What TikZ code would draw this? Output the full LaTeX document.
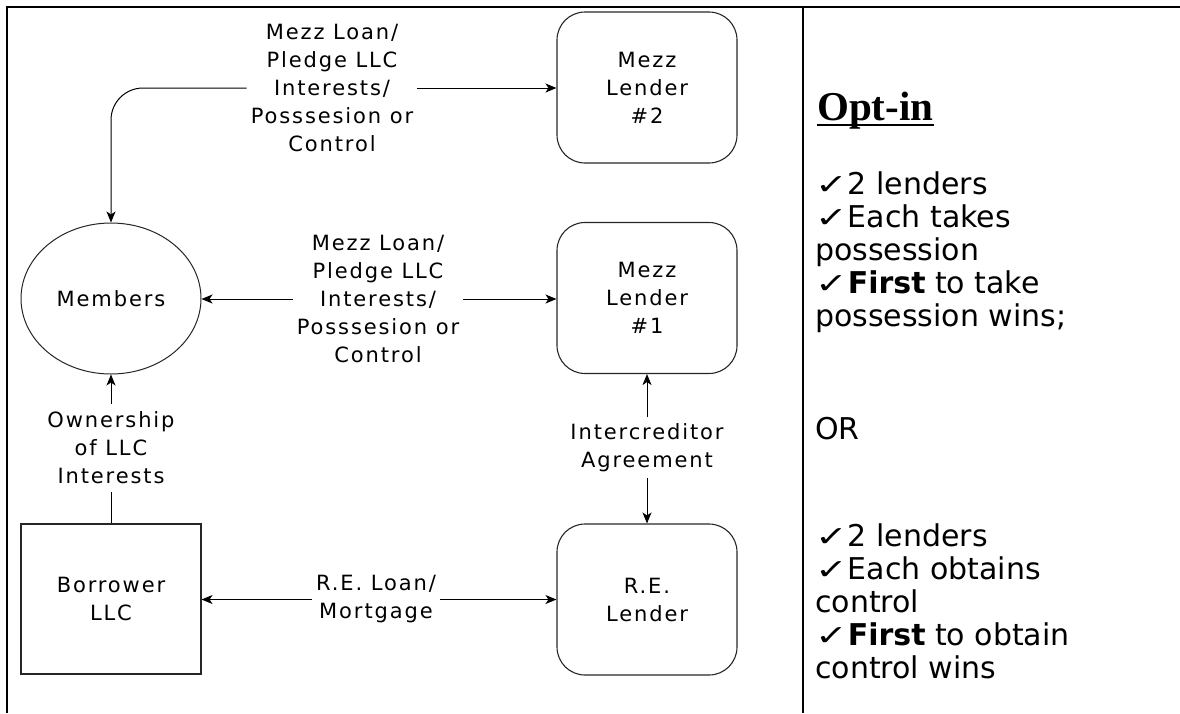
\documentclass[tikz,border=0pt]{standalone}
\usepackage{fontspec}
\usepackage{graphicx}
\setmainfont{DejaVu Sans}
\newfontfamily\labfont[LetterSpace=9]{DejaVu Sans}
\newfontfamily\panelfont{DejaVu Sans}
\newfontfamily\headfont{Liberation Serif}
\usetikzlibrary{arrows.meta,shapes.geometric}
\newcommand\ck{\scalebox{1.3}[0.95]{✓}}

\begin{document}
\begin{tikzpicture}[x=1pt,y=-1pt,
  lbl/.style={font=\labfont\fontsize{21}{28}\selectfont, align=center, inner xsep=4pt, inner ysep=6pt},
  lender/.style={lbl, draw=black!85, line width=1.1pt, rounded corners=28pt,
    minimum width=180pt, minimum height=151pt, inner sep=0pt},
  plainbox/.style={lbl, draw=black!85, line width=1.1pt,
    minimum width=180pt, minimum height=150pt, inner sep=0pt},
  oval/.style={lbl, draw=black!85, line width=1pt, ellipse,
    minimum width=180pt, minimum height=151pt, inner sep=0pt},
  conn/.style={line width=1pt, -{Stealth[length=11pt,width=9pt,inset=3pt]}},
  link/.style={line width=1pt},
  frame/.style={line width=2.6pt}]

\useasboundingbox (0,0) rectangle (1180,713);

% page frame: top rule, left rule and column divider
\draw[frame] (7,7) -- (1180,7);
\draw[frame] (7,5.7) -- (7,713);
\draw[frame] (803,7) -- (803,713);

% parties
\node[lender] (mezz2) at (647,87.5) {Mezz\\Lender\\\#2};
\node[lender] (mezz1) at (647,298) {Mezz\\Lender\\\#1};
\node[lender] (rel) at (647,599.5) {R.E.\\Lender};
\node[oval] (members) at (111,298.5) {Members};
\node[plainbox] (borrower) at (111,599) {Borrower\\LLC};

% relationship labels
\node[lbl] (l1) at (332,88) {Mezz Loan/\\Pledge LLC\\Interests/\\Posssesion or\\Control};
\node[lbl] (l2) at (378,299) {Mezz Loan/\\Pledge LLC\\Interests/\\Posssesion or\\Control};
\node[lbl] (l3) at (376,599.5) {R.E. Loan/\\Mortgage};
\node[lbl] (lic) at (647,447.5) {Intercreditor\\Agreement};
\node[lbl, inner ysep=8pt] (lown) at (111,448) {Ownership\\of LLC\\Interests};

% connectors
\draw[conn, rounded corners=32pt] (l1.west) -| (members.north);
\draw[conn] (l1.east) -- (l1.east -| mezz2.west);
\draw[conn] (l2.west) -- (l2.west -| members.east);
\draw[conn] (l2.east) -- (l2.east -| mezz1.west);
\draw[conn] (l3.west) -- (l3.west -| borrower.east);
\draw[conn] (l3.east) -- (l3.east -| rel.west);
\draw[conn] (lic.north) -- (mezz1.south);
\draw[conn] (lic.south) -- (rel.north);
\draw[conn] (lown.north) -- (members.south);
\draw[link] (lown.south) -- (borrower.north);

% side panel
\node[anchor=base west, inner sep=0pt, font=\headfont\bfseries\fontsize{41}{42}\selectfont] (optin) at (817,120) {Opt-in};
\draw[line width=2.2pt] ([yshift=-5pt]optin.base west) -- ([yshift=-5pt]optin.base east);
\node[anchor=north west, inner sep=0pt, align=left,
  font=\panelfont\fontsize{30}{33}\selectfont] (notes) at (815,171) {%
\ck 2 lenders\\
\ck Each takes\\
possession\\
\ck\textbf{First} to take\\
possession wins;\\[80pt]
OR\\[74pt]
\ck 2 lenders\\
\ck Each obtains\\
control\\
\ck\textbf{First} to obtain\\
control wins};
\end{tikzpicture}
\end{document}
